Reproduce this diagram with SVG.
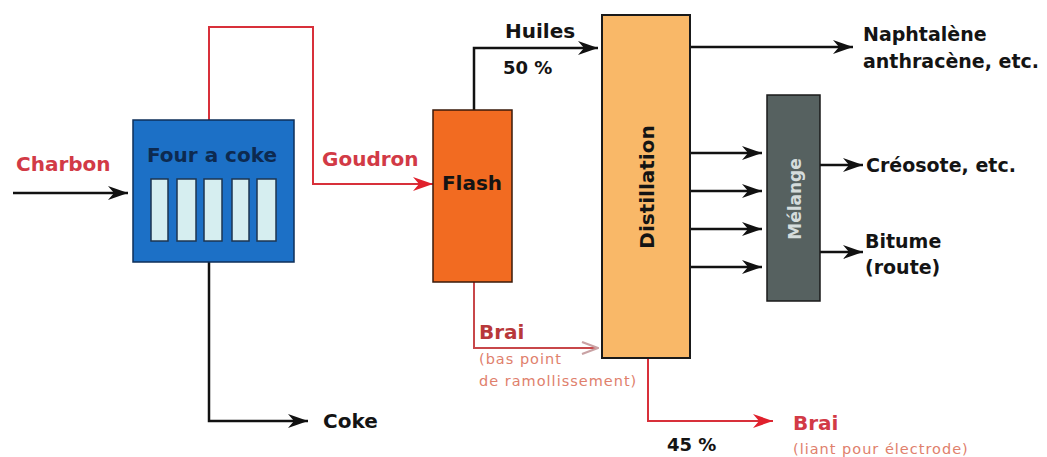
<svg xmlns="http://www.w3.org/2000/svg" width="1047" height="457" viewBox="0 0 1047 457">
<style>
text{font-family:"DejaVu Sans","Liberation Sans",sans-serif}
.b{font-weight:bold}
.blk{fill:#141414}
.red{fill:#d23a46}
.dred{fill:#b8383a}
.sal{fill:#e0806c;font-size:14.5px;letter-spacing:1px}
.k{fill:none;stroke:#111;stroke-width:2.5}
.r{fill:none;stroke:#d8303a;stroke-width:2}
.rk{fill:none;stroke:#c8474a;stroke-width:2}
</style>
<defs>
<marker id="ak" viewBox="0 0 20 14" refX="20" refY="7" markerWidth="20" markerHeight="14" markerUnits="userSpaceOnUse" orient="auto"><path d="M0,0 L20,7 L0,14 L6,7 z" fill="#111"/></marker>
<marker id="ar" viewBox="0 0 20 14" refX="20" refY="7" markerWidth="20" markerHeight="14" markerUnits="userSpaceOnUse" orient="auto"><path d="M0,0 L20,7 L0,14 L6,7 z" fill="#e0202c"/></marker>
<marker id="ag" viewBox="0 0 20 14" refX="19" refY="7" markerWidth="20" markerHeight="14" markerUnits="userSpaceOnUse" orient="auto"><path d="M3,1 L19,7 L3,13" fill="none" stroke="#c9a2a4" stroke-width="2.2"/></marker>
</defs>
<g id="connectors">
<line class="k" x1="13" y1="193" x2="128" y2="193" marker-end="url(#ak)"/>
<polyline class="r" points="209,120 209,27 313,27 313,184 433,184" marker-end="url(#ar)"/>
<polyline class="k" points="209,262 209,421 308,421" marker-end="url(#ak)"/>
<polyline class="k" points="474,110 474,48 598,48" marker-end="url(#ak)"/>
<polyline class="rk" points="474,282 474,348 598,348" marker-end="url(#ag)"/>
<polyline class="r" points="648,358 648,421 773,421" marker-end="url(#ar)"/>
<line class="k" x1="690" y1="47" x2="853" y2="47" marker-end="url(#ak)"/>
<line class="k" x1="690" y1="153" x2="762" y2="153" marker-end="url(#ak)"/>
<line class="k" x1="690" y1="191" x2="762" y2="191" marker-end="url(#ak)"/>
<line class="k" x1="690" y1="229" x2="762" y2="229" marker-end="url(#ak)"/>
<line class="k" x1="690" y1="267" x2="762" y2="267" marker-end="url(#ak)"/>
<line class="k" x1="820" y1="165" x2="863" y2="165" marker-end="url(#ak)"/>
<line class="k" x1="820" y1="252" x2="863" y2="252" marker-end="url(#ak)"/>
</g>
<g id="four">
<rect x="133" y="120" width="161" height="142" fill="#1c70c6" stroke="#0e2f5a" stroke-width="1.5"/>
<text x="212" y="162" class="b" font-size="20" fill="#0d2a50" text-anchor="middle">Four a coke</text>
<g fill="#d6eef0" stroke="#1d3550" stroke-width="1.5">
<rect x="151" y="179" width="17" height="62"/>
<rect x="177" y="179" width="19" height="62"/>
<rect x="204" y="179" width="18" height="62"/>
<rect x="232" y="179" width="17" height="62"/>
<rect x="257" y="179" width="19" height="62"/>
</g>
</g>
<g id="flash">
<rect x="433" y="110" width="79" height="172" fill="#f26b21" stroke="#3a1a0a" stroke-width="1.5"/>
<text x="472" y="190" class="b blk" font-size="20" text-anchor="middle">Flash</text>
</g>
<g id="distillation">
<rect x="602" y="15" width="88" height="343" fill="#f9b868" stroke="#1a1a1a" stroke-width="2"/>
<text x="647" y="187" class="b blk" font-size="20" text-anchor="middle" dominant-baseline="central" transform="rotate(-90 647 187)">Distillation</text>
</g>
<g id="melange">
<rect x="767" y="95" width="53" height="206" fill="#566160" stroke="#1a1a1a" stroke-width="1.5"/>
<text x="795" y="199" class="b" font-size="17" fill="#d4dcdc" text-anchor="middle" dominant-baseline="central" transform="rotate(-90 795 199)">Mélange</text>
</g>
<g id="labels">
<text x="16" y="171" class="b red" font-size="20">Charbon</text>
<text x="322" y="166" class="b red" font-size="20">Goudron</text>
<text x="323" y="428" class="b blk" font-size="20">Coke</text>
<text x="505" y="38" class="b blk" font-size="20">Huiles</text>
<text x="503" y="74" class="b blk" font-size="18">50 %</text>
<text x="479" y="339" class="b dred" font-size="20">Brai</text>
<text x="479" y="364" class="sal">(bas point</text>
<text x="479" y="386" class="sal">de ramollissement)</text>
<text x="667" y="451" class="b blk" font-size="18">45 %</text>
<text x="793" y="430" class="b red" font-size="20">Brai</text>
<text x="793" y="454" class="sal">(liant pour électrode)</text>
<text x="863" y="41" class="b blk" font-size="19">Naphtalène</text>
<text x="863" y="68" class="b blk" font-size="19">anthracène, etc.</text>
<text x="866" y="172" class="b blk" font-size="19">Créosote, etc.</text>
<text x="865" y="248" class="b blk" font-size="19">Bitume</text>
<text x="865" y="274" class="b blk" font-size="19">(route)</text>
</g>
</svg>
